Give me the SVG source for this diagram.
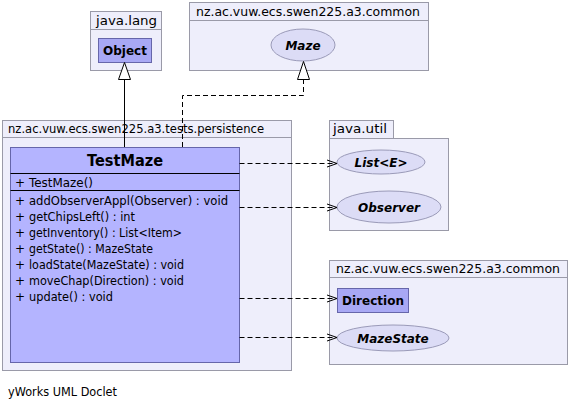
<svg xmlns="http://www.w3.org/2000/svg" width="570" height="408" viewBox="0 0 570 408">
<style>
.pkg{fill:#eeeefb;stroke:#9a9aa8;stroke-width:1}
.cls{fill:#b4b4ff;stroke:#6666aa;stroke-width:1}
.box{fill:#a8a8f4;stroke:#6666aa;stroke-width:1}
.ifc{fill:#dcdcf6;stroke:#9a9ab8;stroke-width:1}
.pl{font-family:"DejaVu Sans","Liberation Sans",sans-serif;font-size:12px;fill:#000}
.mt{font-family:"DejaVu Sans","Liberation Sans",sans-serif;font-size:12px;fill:#000}
.bn{font-family:"DejaVu Sans","Liberation Sans",sans-serif;font-size:12px;font-weight:bold;fill:#000}
.bi{font-family:"DejaVu Sans","Liberation Sans",sans-serif;font-size:12px;font-weight:bold;font-style:italic;fill:#000}
.dash{fill:none;stroke:#000;stroke-width:1;stroke-dasharray:5,3}
.solid{fill:none;stroke:#000;stroke-width:1}
.tri{fill:#fff;stroke:#000;stroke-width:1}
.sep{stroke:#000;stroke-width:1.2}
</style>
<defs>
<marker id="dep" markerWidth="12" markerHeight="10" refX="11" refY="5" orient="auto" markerUnits="userSpaceOnUse">
<path d="M1,1.5 L11,5 L1,8.5" fill="none" stroke="#000" stroke-width="1"/>
</marker>
</defs>

<g id="pkg-java-lang">
<rect class="pkg" x="90.5" y="11.5" width="71" height="18"/>
<rect class="pkg" x="90.5" y="29.5" width="71" height="41"/>
<text class="pl" x="96" y="25" textLength="61" lengthAdjust="spacingAndGlyphs">java.lang</text>
</g>
<g id="node-Object">
<rect class="box" x="98.5" y="38.5" width="53" height="24"/>
<text class="bn" x="125" y="55" text-anchor="middle">Object</text>
</g>

<g id="pkg-common-top">
<rect class="pkg" x="189.5" y="2.5" width="239" height="18"/>
<rect class="pkg" x="189.5" y="20.5" width="239" height="50"/>
<text class="pl" x="196" y="16" textLength="224" lengthAdjust="spacingAndGlyphs">nz.ac.vuw.ecs.swen225.a3.common</text>
</g>
<g id="node-Maze">
<ellipse class="ifc" cx="303" cy="45" rx="32" ry="16"/>
<text class="bi" x="303" y="49.5" text-anchor="middle">Maze</text>
</g>

<g id="pkg-persistence">
<rect class="pkg" x="2.5" y="120.5" width="289" height="17"/>
<rect class="pkg" x="2.5" y="137.5" width="289" height="233"/>
<text class="pl" x="8" y="133" textLength="256" lengthAdjust="spacingAndGlyphs">nz.ac.vuw.ecs.swen225.a3.tests.persistence</text>
</g>
<g id="node-TestMaze">
<rect class="cls" x="10.5" y="147.5" width="229" height="215"/>
<text x="125" y="166" text-anchor="middle" font-family="DejaVu Sans, Liberation Sans, sans-serif" font-size="16.5" font-weight="bold" textLength="76" lengthAdjust="spacingAndGlyphs">TestMaze</text>
<line class="sep" x1="10.5" y1="173.5" x2="239.5" y2="173.5"/>
<text class="mt" x="15" y="187">+</text>
<text class="mt" x="29" y="187" textLength="64" lengthAdjust="spacingAndGlyphs">TestMaze()</text>
<line class="sep" x1="10.5" y1="190.5" x2="239.5" y2="190.5"/>
<text class="mt" x="15" y="205">+</text>
<text class="mt" x="29" y="205" textLength="199" lengthAdjust="spacingAndGlyphs">addObserverAppl(Observer) : void</text>
<text class="mt" x="15" y="221">+</text>
<text class="mt" x="29" y="221" textLength="106" lengthAdjust="spacingAndGlyphs">getChipsLeft() : int</text>
<text class="mt" x="15" y="237">+</text>
<text class="mt" x="29" y="237" textLength="153" lengthAdjust="spacingAndGlyphs">getInventory() : List&lt;Item&gt;</text>
<text class="mt" x="15" y="253">+</text>
<text class="mt" x="29" y="253" textLength="124" lengthAdjust="spacingAndGlyphs">getState() : MazeState</text>
<text class="mt" x="15" y="269">+</text>
<text class="mt" x="29" y="269" textLength="155" lengthAdjust="spacingAndGlyphs">loadState(MazeState) : void</text>
<text class="mt" x="15" y="285">+</text>
<text class="mt" x="29" y="285" textLength="155" lengthAdjust="spacingAndGlyphs">moveChap(Direction) : void</text>
<text class="mt" x="15" y="301">+</text>
<text class="mt" x="29" y="301" textLength="84" lengthAdjust="spacingAndGlyphs">update() : void</text>
</g>

<g id="pkg-java-util">
<rect class="pkg" x="329.5" y="120.5" width="64" height="18"/>
<rect class="pkg" x="329.5" y="138.5" width="119" height="92"/>
<text class="pl" x="333" y="133" textLength="54" lengthAdjust="spacingAndGlyphs">java.util</text>
</g>
<g id="node-List">
<ellipse class="ifc" cx="381" cy="162" rx="44" ry="12"/>
<text class="bi" x="381" y="166.5" text-anchor="middle">List&lt;E&gt;</text>
</g>
<g id="node-Observer">
<ellipse class="ifc" cx="389" cy="207" rx="52" ry="16"/>
<text class="bi" x="389" y="211.5" text-anchor="middle">Observer</text>
</g>

<g id="pkg-common-bottom">
<rect class="pkg" x="329.5" y="260.5" width="238" height="17"/>
<rect class="pkg" x="329.5" y="277.5" width="238" height="87"/>
<text class="pl" x="336" y="273" textLength="224" lengthAdjust="spacingAndGlyphs">nz.ac.vuw.ecs.swen225.a3.common</text>
</g>
<g id="node-Direction">
<rect class="box" x="337.5" y="288.5" width="71" height="24"/>
<text class="bn" x="373" y="305" text-anchor="middle">Direction</text>
</g>
<g id="node-MazeState">
<ellipse class="ifc" cx="393" cy="338" rx="56" ry="13"/>
<text class="bi" x="393" y="342.5" text-anchor="middle">MazeState</text>
</g>

<g id="connectors">
<line class="solid" x1="124.5" y1="147" x2="124.5" y2="79"/>
<polygon class="tri" points="124.5,62.5 130.5,79.5 118.5,79.5"/>
<polyline class="dash" points="182.5,147 182.5,95.5 303.5,95.5 303.5,79.5"/>
<polygon class="tri" points="303.5,61.5 309.5,79.5 297.5,79.5"/>
<line class="dash" x1="239.5" y1="163.5" x2="337" y2="163.5" marker-end="url(#dep)"/>
<line class="dash" x1="239.5" y1="207.5" x2="337" y2="207.5" marker-end="url(#dep)"/>
<line class="dash" x1="239.5" y1="298.5" x2="337" y2="298.5" marker-end="url(#dep)"/>
<line class="dash" x1="239.5" y1="337.5" x2="337" y2="337.5" marker-end="url(#dep)"/>
</g>

<text class="pl" x="8" y="396" textLength="109" lengthAdjust="spacingAndGlyphs">yWorks UML Doclet</text>
</svg>
